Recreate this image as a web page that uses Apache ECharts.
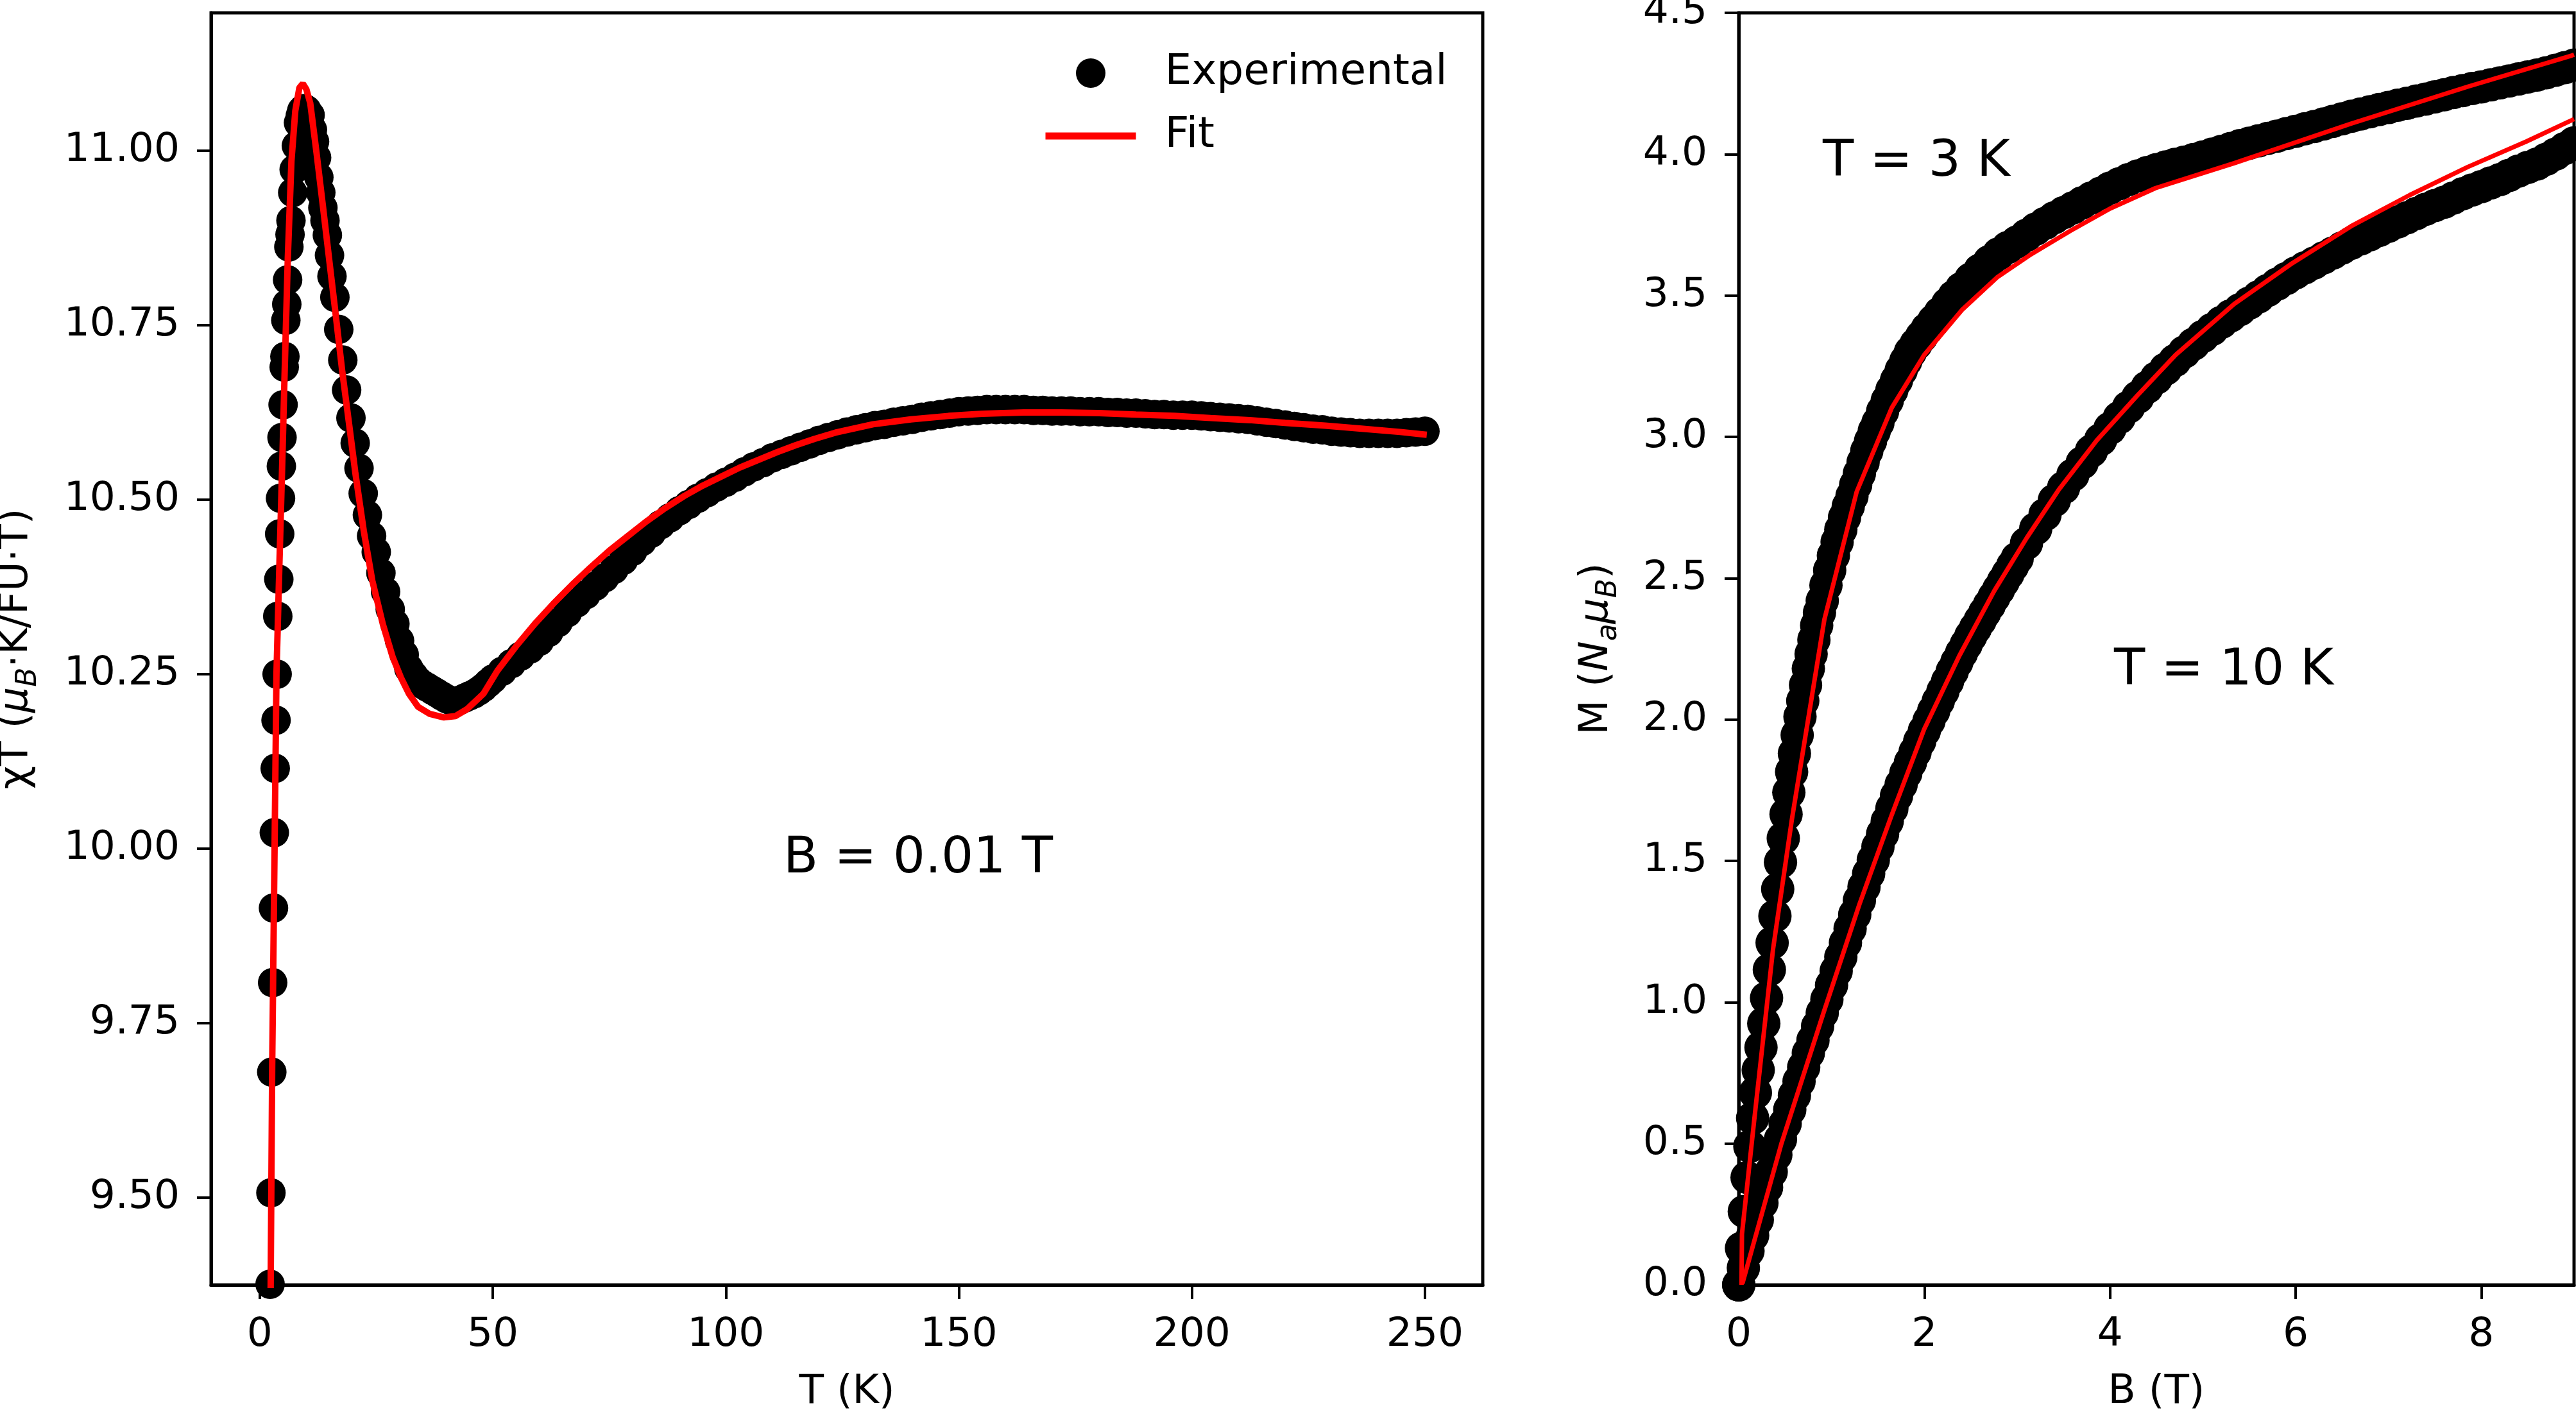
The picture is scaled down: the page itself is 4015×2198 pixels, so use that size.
<!DOCTYPE html>
<html>
<head>
<meta charset="utf-8">
<script src="https://cdn.jsdelivr.net/npm/echarts@6/dist/echarts.min.js"></script>
<style>
  html, body { margin: 0; padding: 0; background: #fff; }
  #chart { width: 4015px; height: 2198px; }
</style>
</head>
<body>
<div id="chart"></div>
<script>
// left panel: chi*T against temperature, measured at B = 0.01 T
const tempExp = [
  2.22, 2.40, 2.58, 2.77, 2.95, 3.13, 3.32, 3.50, 3.73, 3.87, 4.09, 4.28, 4.46, 4.64, 4.78,
  5.01, 5.25, 5.40, 5.60, 5.80, 5.98, 6.25, 6.50, 6.70, 7.08, 7.39, 7.86, 8.32, 8.70, 9.00,
  9.40, 9.70, 10.10, 10.80, 11.30, 11.76, 12.20, 12.68, 13.10, 13.55, 14.00, 14.51, 14.97,
  15.50, 16.12, 16.95, 17.82, 18.64, 19.57, 20.48, 21.30, 22.20, 23.10, 24.00,
  25, 26, 27, 28, 29, 30, 31, 32, 33, 34, 35, 36, 37, 38, 39, 40, 41, 42, 43, 44, 45, 46,
  47, 48, 49, 50, 52, 54, 56, 58, 60, 62, 64, 66, 68, 70, 72, 74, 76, 78, 80, 82, 84, 86,
  88, 90, 92, 94, 96, 98, 100, 102, 104, 106, 108, 110, 112, 114, 116, 118, 120, 122, 124,
  126, 128, 130, 132, 134, 136, 138, 140, 142, 144, 146, 148, 150, 152, 154, 156, 158, 160,
  162, 164, 166, 168, 170, 172, 174, 176, 178, 180, 182, 184, 186, 188, 190, 192, 194, 196,
  198, 200, 202, 204, 206, 208, 210, 212, 214, 216, 218, 220, 222, 224, 226, 228, 230, 232,
  234, 236, 238, 240, 242, 244, 246, 248, 250
];
const chiTExp = [
  9.376, 9.507, 9.680, 9.808, 9.915, 10.023, 10.115, 10.184, 10.250, 10.333, 10.386, 10.451,
  10.502, 10.548, 10.589, 10.636, 10.690, 10.705, 10.757, 10.780, 10.815, 10.862, 10.880,
  10.900, 10.940, 10.973, 11.007, 11.040, 11.050, 11.057, 11.060, 11.060, 11.058, 11.051,
  11.030, 11.013, 10.990, 10.962, 10.940, 10.918, 10.900, 10.879, 10.850, 10.820, 10.790,
  10.744, 10.700, 10.657, 10.617, 10.581, 10.545, 10.509, 10.478, 10.448,
  10.425, 10.395, 10.368, 10.343, 10.322, 10.298, 10.278, 10.258, 10.248, 10.240, 10.235,
  10.231, 10.227, 10.223, 10.219, 10.215, 10.212, 10.211, 10.213, 10.216, 10.219, 10.222,
  10.226, 10.231, 10.237, 10.243, 10.254, 10.265, 10.276, 10.286, 10.297, 10.310, 10.324,
  10.338, 10.352, 10.364, 10.376, 10.388, 10.400, 10.413, 10.426, 10.440, 10.452, 10.464,
  10.474, 10.484, 10.493, 10.502, 10.510, 10.518, 10.525, 10.532, 10.540, 10.547, 10.553,
  10.560, 10.565, 10.570, 10.575, 10.580, 10.585, 10.589, 10.593, 10.597, 10.600, 10.603,
  10.606, 10.608, 10.611, 10.613, 10.615, 10.618, 10.620, 10.622, 10.624, 10.626, 10.627,
  10.628, 10.629, 10.629, 10.629, 10.629, 10.629, 10.628, 10.628, 10.627, 10.627, 10.627,
  10.626, 10.626, 10.626, 10.625, 10.625, 10.624, 10.624, 10.623, 10.622, 10.622, 10.621,
  10.621, 10.621, 10.620, 10.619, 10.618, 10.617, 10.616, 10.615, 10.613, 10.611, 10.609,
  10.607, 10.605, 10.603, 10.601, 10.600, 10.598, 10.597, 10.596, 10.595, 10.595, 10.595,
  10.595, 10.595, 10.596, 10.597, 10.598
];
const tempFit = [
  2.30, 2.67, 3.04, 3.59, 4.19, 4.78, 5.33, 6.02, 6.80, 7.63, 8.50, 9.24, 10.00, 10.84, 12.20,
  13.60, 14.97, 16.35, 17.70, 19.10, 20.50, 22.30, 24.15, 26.40, 28.50, 30.30, 32.00, 34.00,
  36.50, 39.50, 42.00, 44.50, 48.00, 51.00, 55.00, 59.00, 63.00, 67.00, 71.00, 75.00, 79.00,
  83.00, 87.00, 91.00, 95.00, 99.00, 103.0, 107.0, 111.0, 115.0, 119.0, 123.5, 131.6, 139.7,
  147.8, 155.0, 163.9, 172.0, 180.1, 188.0, 196.3, 204.0, 212.4, 220.0, 228.6, 236.0, 244.7,
  250.4
];
const chiTFit = [
  9.330, 9.689, 9.914, 10.251, 10.400, 10.540, 10.679, 10.846, 10.985, 11.057, 11.090, 11.096,
  11.088, 11.068, 10.996, 10.918, 10.840, 10.762, 10.684, 10.612, 10.539, 10.456, 10.384,
  10.322, 10.275, 10.245, 10.222, 10.203, 10.193, 10.188, 10.190, 10.200, 10.222, 10.255,
  10.290, 10.322, 10.351, 10.378, 10.403, 10.427, 10.448, 10.469, 10.488, 10.505, 10.520,
  10.533, 10.546, 10.557, 10.568, 10.578, 10.587, 10.596, 10.608, 10.615, 10.620, 10.623,
  10.625, 10.625, 10.624, 10.622, 10.620, 10.617, 10.614, 10.610, 10.606, 10.602, 10.597,
  10.593
];

// right panel: magnetisation against field at 3 K and 10 K
const field3K = [
  0.00, 0.03, 0.06, 0.09, 0.12, 0.15, 0.18, 0.21, 0.24, 0.27, 0.30, 0.33, 0.36, 0.39, 0.42,
  0.45, 0.48, 0.51, 0.54, 0.57, 0.60, 0.63, 0.66, 0.69, 0.72, 0.75, 0.78, 0.81, 0.84, 0.87,
  0.90, 0.94, 0.98, 1.02, 1.06, 1.10, 1.14, 1.18, 1.22, 1.26, 1.30, 1.34, 1.38, 1.42, 1.46,
  1.50, 1.55, 1.60, 1.65, 1.70, 1.75, 1.80, 1.85, 1.91, 1.97, 2.03, 2.10, 2.17, 2.25, 2.32,
  2.40, 2.50, 2.60, 2.70, 2.80, 2.90, 3.00, 3.10, 3.20, 3.30, 3.40, 3.50, 3.60, 3.70, 3.80,
  3.90, 4.00, 4.10, 4.20, 4.30, 4.40, 4.50, 4.60, 4.70, 4.80, 4.90, 5.00, 5.10, 5.20, 5.30,
  5.40, 5.50, 5.60, 5.70, 5.80, 5.90, 6.00, 6.10, 6.20, 6.30, 6.40, 6.50, 6.60, 6.70, 6.80,
  6.90, 7.00, 7.10, 7.20, 7.30, 7.40, 7.50, 7.60, 7.70, 7.80, 7.90, 8.00, 8.10, 8.20, 8.30,
  8.40, 8.50, 8.60, 8.70, 8.80, 8.90, 9.00
];
const mag3K = [
  0.000, 0.130, 0.260, 0.380, 0.490, 0.590, 0.680, 0.760, 0.840, 0.925, 1.015, 1.115, 1.210,
  1.305, 1.400, 1.495, 1.580, 1.665, 1.742, 1.815, 1.880, 1.945, 2.010, 2.066, 2.122, 2.180,
  2.232, 2.282, 2.333, 2.378, 2.420, 2.475, 2.528, 2.580, 2.628, 2.672, 2.715, 2.754, 2.790,
  2.830, 2.870, 2.910, 2.950, 2.985, 3.020, 3.050, 3.090, 3.128, 3.165, 3.200, 3.235, 3.268,
  3.300, 3.328, 3.355, 3.382, 3.410, 3.438, 3.470, 3.497,
  3.525, 3.558, 3.590, 3.620, 3.647, 3.670, 3.690, 3.713, 3.735, 3.755, 3.775, 3.793, 3.810,
  3.828, 3.845, 3.862, 3.880, 3.895, 3.910, 3.923, 3.935, 3.945, 3.955, 3.964, 3.972, 3.981,
  3.990, 4.000, 4.010, 4.020, 4.030, 4.039, 4.047, 4.056, 4.064, 4.073, 4.081, 4.090, 4.098,
  4.107, 4.116, 4.125, 4.134, 4.142, 4.150, 4.158, 4.165, 4.173, 4.180, 4.188, 4.195, 4.203,
  4.210, 4.218, 4.225, 4.232, 4.238, 4.245, 4.252, 4.259, 4.266, 4.273, 4.280, 4.288, 4.297,
  4.306, 4.315
];
const field10K = [
  0.00, 0.05, 0.10, 0.15, 0.20, 0.25, 0.30, 0.35, 0.40, 0.45, 0.50, 0.55, 0.60, 0.65, 0.70,
  0.75, 0.80, 0.85, 0.90, 0.95, 1.00, 1.05, 1.10, 1.15, 1.20, 1.25, 1.30, 1.35, 1.40, 1.45,
  1.50, 1.55, 1.60, 1.65, 1.70, 1.75, 1.80, 1.85, 1.90, 1.95, 2.00, 2.05, 2.10, 2.15, 2.20,
  2.25, 2.30, 2.35, 2.40, 2.45, 2.50, 2.55, 2.60, 2.65, 2.70, 2.75, 2.80, 2.85, 2.90, 2.95,
  3.00, 3.10, 3.20, 3.30, 3.40, 3.50, 3.60, 3.70, 3.80, 3.90, 4.00, 4.10, 4.20, 4.30, 4.40,
  4.50, 4.60, 4.70, 4.80, 4.90, 5.00, 5.10, 5.20, 5.30, 5.40, 5.50, 5.60, 5.70, 5.80, 5.90,
  6.00, 6.10, 6.20, 6.30, 6.40, 6.50, 6.60, 6.70, 6.80, 6.90, 7.00, 7.10, 7.20, 7.30, 7.40,
  7.50, 7.60, 7.70, 7.80, 7.90, 8.00, 8.10, 8.20, 8.30, 8.40, 8.50, 8.60, 8.70, 8.80, 8.90,
  9.00
];
const mag10K = [
  0.000, 0.060, 0.120, 0.175, 0.230, 0.290, 0.345, 0.400, 0.460, 0.515, 0.570, 0.620, 0.670,
  0.720, 0.770, 0.820, 0.865, 0.915, 0.962, 1.010, 1.060, 1.110, 1.160, 1.210, 1.260, 1.310,
  1.360, 1.408, 1.455, 1.503, 1.550, 1.595, 1.640, 1.685, 1.730, 1.770, 1.810, 1.848, 1.885,
  1.923, 1.960, 1.995, 2.030, 2.065, 2.100, 2.135, 2.170, 2.203, 2.235, 2.265, 2.295, 2.323,
  2.350, 2.378, 2.405, 2.433, 2.460, 2.488, 2.515, 2.543,
  2.570, 2.623, 2.675, 2.725, 2.775, 2.820, 2.865, 2.908, 2.950, 2.990, 3.030, 3.068, 3.105,
  3.140, 3.175, 3.208, 3.240, 3.270, 3.300, 3.328, 3.355, 3.380, 3.405, 3.428, 3.450, 3.473,
  3.495, 3.518, 3.540, 3.560, 3.580, 3.598, 3.615, 3.633, 3.650, 3.668, 3.685, 3.700, 3.715,
  3.730, 3.745, 3.760, 3.775, 3.790, 3.805, 3.818, 3.830, 3.845, 3.860, 3.873, 3.885, 3.898,
  3.910, 3.925, 3.940, 3.953, 3.965, 3.982, 4.000, 4.020, 4.040
];
const field3KFit = [
  0.030, 0.035, 0.167, 0.370, 0.574, 0.923, 1.271, 1.649, 1.998, 2.405, 2.783, 3.132, 3.568,
  4.003, 4.490, 5.338, 6.597, 7.857, 8.975, 9.000
];
const mag3KFit = [
  0.000, 0.180, 0.583, 1.188, 1.649, 2.354, 2.806, 3.103, 3.290, 3.449, 3.564, 3.642, 3.728,
  3.808, 3.880, 3.968, 4.108, 4.239, 4.349, 4.352
];
const field10KFit = [
  0.040, 0.460, 0.923, 1.300, 1.649, 1.998, 2.376, 2.753, 3.102, 3.452, 3.858, 4.294, 4.708,
  5.338, 5.968, 6.597, 7.227, 7.857, 8.487, 8.975, 9.000
];
const mag10KFit = [
  0.005, 0.500, 0.972, 1.346, 1.663, 1.966, 2.225, 2.455, 2.642, 2.815, 2.988, 3.146, 3.290,
  3.470, 3.615, 3.745, 3.855, 3.955, 4.045, 4.120, 4.124
];

const chiTTicks = [9.5, 9.75, 10.0, 10.25, 10.5, 10.75, 11.0];
const tempTicks = [0, 50, 100, 150, 200, 250];
const fieldTicks = [0, 2, 4, 6, 8];

const FONT = '"DejaVu Sans", sans-serif';
const zip = (xs, ys) => xs.map((x, i) => [x, ys[i]]);

const chart = echarts.init(document.getElementById('chart'), null, { renderer: 'canvas' });

const baseText = { fontFamily: FONT, fontSize: 63, color: '#000' };
const nameRich = {
  it: { fontFamily: FONT, fontSize: 63, fontStyle: 'italic', color: '#000' },
  sub: { fontFamily: FONT, fontSize: 44, fontStyle: 'italic', color: '#000', padding: [38, 0, 0, 0] }
};
const dots = { color: '#000', opacity: 1 };

function valueAxis(extra) {
  return Object.assign({
    type: 'value',
    axisLine: { show: true, onZero: false, lineStyle: { color: '#000', width: 5 } },
    axisTick: { show: true, length: 22, lineStyle: { color: '#000', width: 4 } },
    axisLabel: Object.assign({ margin: 44 }, baseText),
    splitLine: { show: false },
    nameLocation: 'middle',
    nameMoveOverlap: false,
    nameTextStyle: Object.assign({ rich: nameRich }, baseText)
  }, extra);
}

const option = {
  animation: false,
  backgroundColor: '#fff',
  grid: [
    { left: 329, top: 20, width: 1982, height: 1983, show: true, borderColor: '#000', borderWidth: 5, outerBoundsMode: 'none' },
    { left: 2710, top: 20, width: 1302, height: 1983, show: true, borderColor: '#000', borderWidth: 5, outerBoundsMode: 'none' }
  ],
  xAxis: [
    valueAxis({
      gridIndex: 0, min: -10.44, max: 262.4,
      axisTick: { show: true, length: 22, lineStyle: { color: '#000', width: 4 }, customValues: tempTicks },
      axisLabel: Object.assign({ margin: 47, customValues: tempTicks }, baseText),
      name: 'T (K)', nameGap: 136
    }),
    valueAxis({
      gridIndex: 1, min: 0, max: 9,
      axisTick: { show: true, length: 22, lineStyle: { color: '#000', width: 4 }, customValues: fieldTicks },
      axisLabel: Object.assign({ margin: 47, customValues: fieldTicks }, baseText),
      name: 'B (T)', nameGap: 136
    })
  ],
  yAxis: [
    valueAxis({
      gridIndex: 0, min: 9.375, max: 11.1975,
      axisTick: { show: true, length: 22, lineStyle: { color: '#000', width: 4 }, customValues: chiTTicks },
      axisLabel: Object.assign({ margin: 49, customValues: chiTTicks, formatter: v => v.toFixed(2) }, baseText),
      name: 'χT ({it|μ}{sub|B}·K/FU·T)', nameGap: 262, nameRotate: 90
    }),
    valueAxis({
      gridIndex: 1, min: 0, max: 4.5, interval: 0.5,
      axisLabel: Object.assign({ margin: 49, formatter: v => v.toFixed(1) }, baseText),
      name: 'M ({it|N}{sub|a}{it|μ}{sub|B})', nameGap: 180, nameRotate: 90
    })
  ],
  legend: {
    orient: 'vertical',
    left: 1619,
    top: 76,
    itemWidth: 141,
    itemHeight: 46,
    itemGap: 32,
    selectedMode: false,
    textStyle: { fontFamily: FONT, fontSize: 66, color: '#000', padding: [0, 0, 0, 40], lineHeight: 46 },
    data: [
      { name: 'Experimental', icon: 'circle', itemStyle: { color: '#000', opacity: 1 } },
      { name: 'Fit', itemStyle: { opacity: 0 }, lineStyle: { color: '#ff0000', width: 11, opacity: 1 } }
    ]
  },
  series: [
    {
      name: 'Experimental', type: 'scatter', xAxisIndex: 0, yAxisIndex: 0,
      symbol: 'circle', symbolSize: 46, itemStyle: dots,
      data: zip(tempExp, chiTExp)
    },
    {
      name: 'Fit', type: 'line', xAxisIndex: 0, yAxisIndex: 0,
      showSymbol: false, symbol: 'none', clip: true,
      lineStyle: { color: '#ff0000', width: 10 }, itemStyle: { color: '#ff0000' },
      data: zip(tempFit, chiTFit)
    },
    {
      name: 'M 3 K', type: 'scatter', xAxisIndex: 1, yAxisIndex: 1,
      symbol: 'circle', symbolSize: 52, itemStyle: dots,
      data: zip(field3K, mag3K)
    },
    {
      name: 'M 10 K', type: 'scatter', xAxisIndex: 1, yAxisIndex: 1,
      symbol: 'circle', symbolSize: 52, itemStyle: dots,
      data: zip(field10K, mag10K)
    },
    {
      name: 'Fit 3 K', type: 'line', xAxisIndex: 1, yAxisIndex: 1,
      showSymbol: false, symbol: 'none', clip: true,
      lineStyle: { color: '#ff0000', width: 7 },
      data: zip(field3KFit, mag3KFit)
    },
    {
      name: 'Fit 10 K', type: 'line', xAxisIndex: 1, yAxisIndex: 1,
      showSymbol: false, symbol: 'none', clip: true,
      lineStyle: { color: '#ff0000', width: 7 },
      data: zip(field10KFit, mag10KFit)
    }
  ],
  graphic: [
    { type: 'text', x: 1431, y: 1339, style: { text: 'B = 0.01 T', fontFamily: FONT, fontSize: 79, fill: '#000', align: 'center', verticalAlign: 'middle' } },
    { type: 'text', x: 2987, y: 253, style: { text: 'T = 3 K', fontFamily: FONT, fontSize: 79, fill: '#000', align: 'center', verticalAlign: 'middle' } },
    { type: 'text', x: 3466, y: 1046, style: { text: 'T = 10 K', fontFamily: FONT, fontSize: 79, fill: '#000', align: 'center', verticalAlign: 'middle' } }
  ]
};

chart.setOption(option);
</script>
</body>
</html>
